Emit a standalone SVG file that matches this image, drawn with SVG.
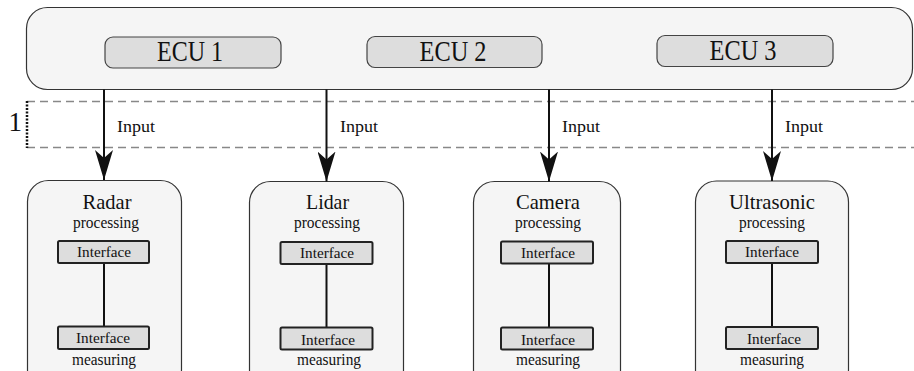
<svg xmlns="http://www.w3.org/2000/svg" width="914" height="371" viewBox="0 0 914 371">
<defs>
<style>
.big{fill:#f5f5f5;stroke:#333;stroke-width:1.2}
.ecu{fill:#dddddd;stroke:#444;stroke-width:1.2}
.ifc{fill:#dddddd;stroke:#222;stroke-width:2}
.t{font-family:"Liberation Serif","Times New Roman",serif;fill:#111}
.ecut{font-size:29px}
.title{font-size:21px}
.small{font-size:16.5px}
.ift{font-size:15.5px}
.conn{stroke:#111;stroke-width:2;fill:none}
.link{stroke:#111;stroke-width:2}
</style>
<marker id="arr" viewBox="0 0 30 18" refX="30" refY="9" markerWidth="30" markerHeight="18" markerUnits="userSpaceOnUse" orient="auto">
<path d="M0,0 L30,9 L0,18 L8,9 z" fill="#111"/>
</marker>
</defs>
<rect width="914" height="371" fill="#ffffff"/>

<g id="band">
<path d="M27,101.5 H914 M27,147.5 H914" stroke="#888" stroke-width="1.5" stroke-dasharray="8 5" fill="none"/>
<line x1="27" y1="101" x2="27" y2="148" stroke="#111" stroke-width="2.5" stroke-dasharray="2 1.5"/>
<text class="t" x="22" y="131" font-size="27" text-anchor="end">1</text>
</g>

<g id="ecu-group">
<rect class="big" x="26.5" y="7.5" width="886" height="82" rx="21" ry="21"/>
</g>
<g id="ecu1">
<rect class="ecu" x="105" y="37" width="176" height="31" rx="8"/>
<text class="t ecut" x="190" y="61" text-anchor="middle" textLength="66" lengthAdjust="spacingAndGlyphs">ECU 1</text>
</g>
<g id="ecu2">
<rect class="ecu" x="367" y="36.5" width="175" height="31" rx="8"/>
<text class="t ecut" x="453" y="60.5" text-anchor="middle" textLength="67" lengthAdjust="spacingAndGlyphs">ECU 2</text>
</g>
<g id="ecu3">
<rect class="ecu" x="657" y="35.5" width="176" height="31" rx="8"/>
<text class="t ecut" x="743" y="60" text-anchor="middle" textLength="67" lengthAdjust="spacingAndGlyphs">ECU 3</text>
</g>

<g id="radar">
<rect class="big" x="27.5" y="180.5" width="154" height="210" rx="21"/>
<text class="t title" x="107" y="209" text-anchor="middle" textLength="49" lengthAdjust="spacingAndGlyphs">Radar</text>
<text class="t small" x="106" y="228" text-anchor="middle" textLength="66" lengthAdjust="spacingAndGlyphs">processing</text>
<line class="link" x1="104" y1="263" x2="104" y2="326"/>
<rect class="ifc" x="58" y="241" width="91" height="22" rx="1.5"/>
<text class="t ift" x="104" y="257" text-anchor="middle" textLength="54" lengthAdjust="spacingAndGlyphs">Interface</text>
<rect class="ifc" x="58" y="326.5" width="91" height="22.5" rx="1.5"/>
<text class="t ift" x="103" y="343" text-anchor="middle" textLength="54" lengthAdjust="spacingAndGlyphs">Interface</text>
<text class="t small" x="104" y="364.5" text-anchor="middle" textLength="64" lengthAdjust="spacingAndGlyphs">measuring</text>
</g>

<g id="lidar">
<rect class="big" x="249.5" y="181.5" width="154" height="210" rx="21"/>
<text class="t title" x="327.5" y="209" text-anchor="middle" textLength="43" lengthAdjust="spacingAndGlyphs">Lidar</text>
<text class="t small" x="327" y="228" text-anchor="middle" textLength="66" lengthAdjust="spacingAndGlyphs">processing</text>
<line class="link" x1="326.5" y1="264" x2="326.5" y2="327"/>
<rect class="ifc" x="280.5" y="242" width="92" height="22" rx="1.5"/>
<text class="t ift" x="327" y="258" text-anchor="middle" textLength="54" lengthAdjust="spacingAndGlyphs">Interface</text>
<rect class="ifc" x="280.5" y="327.5" width="92" height="22" rx="1.5"/>
<text class="t ift" x="328" y="344.5" text-anchor="middle" textLength="54" lengthAdjust="spacingAndGlyphs">Interface</text>
<text class="t small" x="329" y="364.5" text-anchor="middle" textLength="64" lengthAdjust="spacingAndGlyphs">measuring</text>
</g>

<g id="camera">
<rect class="big" x="473.5" y="181.5" width="147" height="210" rx="21"/>
<text class="t title" x="548" y="209" text-anchor="middle" textLength="64" lengthAdjust="spacingAndGlyphs">Camera</text>
<text class="t small" x="548" y="228" text-anchor="middle" textLength="66" lengthAdjust="spacingAndGlyphs">processing</text>
<line class="link" x1="549" y1="264" x2="549" y2="327"/>
<rect class="ifc" x="501" y="241.5" width="92" height="22" rx="1.5"/>
<text class="t ift" x="548" y="258" text-anchor="middle" textLength="54" lengthAdjust="spacingAndGlyphs">Interface</text>
<rect class="ifc" x="501" y="327.5" width="92" height="22" rx="1.5"/>
<text class="t ift" x="548" y="344.5" text-anchor="middle" textLength="54" lengthAdjust="spacingAndGlyphs">Interface</text>
<text class="t small" x="548" y="364.5" text-anchor="middle" textLength="64" lengthAdjust="spacingAndGlyphs">measuring</text>
</g>

<g id="ultrasonic">
<rect class="big" x="695.5" y="181" width="153" height="210" rx="21"/>
<text class="t title" x="772" y="209" text-anchor="middle" textLength="86" lengthAdjust="spacingAndGlyphs">Ultrasonic</text>
<text class="t small" x="772" y="228" text-anchor="middle" textLength="66" lengthAdjust="spacingAndGlyphs">processing</text>
<line class="link" x1="772" y1="263" x2="772" y2="327"/>
<rect class="ifc" x="726" y="241" width="92" height="22" rx="1.5"/>
<text class="t ift" x="772" y="257" text-anchor="middle" textLength="54" lengthAdjust="spacingAndGlyphs">Interface</text>
<rect class="ifc" x="726" y="327" width="92" height="22" rx="1.5"/>
<text class="t ift" x="774" y="344" text-anchor="middle" textLength="54" lengthAdjust="spacingAndGlyphs">Interface</text>
<text class="t small" x="772" y="364.5" text-anchor="middle" textLength="64" lengthAdjust="spacingAndGlyphs">measuring</text>
</g>

<g id="connectors">
<line class="conn" x1="104" y1="89.5" x2="104" y2="180" marker-end="url(#arr)"/>
<line class="conn" x1="326.5" y1="89.5" x2="326.5" y2="181.5" marker-end="url(#arr)"/>
<line class="conn" x1="549" y1="89.5" x2="549" y2="181.5" marker-end="url(#arr)"/>
<line class="conn" x1="772" y1="89.5" x2="772" y2="181" marker-end="url(#arr)"/>
<text class="t small" x="117" y="131.5" textLength="38" lengthAdjust="spacingAndGlyphs">Input</text>
<text class="t small" x="340" y="131.5" textLength="38" lengthAdjust="spacingAndGlyphs">Input</text>
<text class="t small" x="562" y="131.5" textLength="38" lengthAdjust="spacingAndGlyphs">Input</text>
<text class="t small" x="785" y="131.5" textLength="38" lengthAdjust="spacingAndGlyphs">Input</text>
</g>
</svg>
